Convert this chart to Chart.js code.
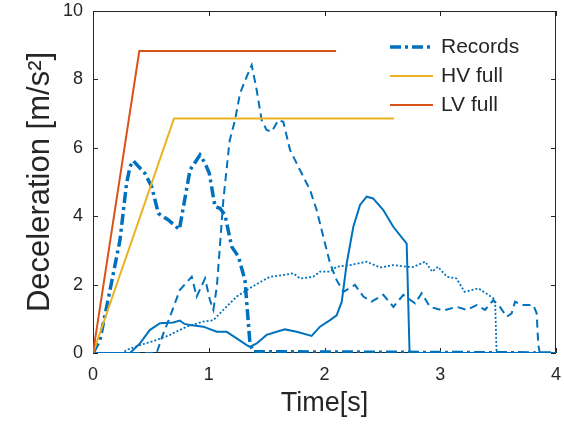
<!DOCTYPE html>
<html>
<head>
<meta charset="utf-8">
<script src="https://cdn.jsdelivr.net/npm/chart.js@4.4.1/dist/chart.umd.min.js"></script>
<style>
  html, body { margin: 0; padding: 0; background: #fff; }
  canvas { display: block; }
</style>
</head>
<body>
<canvas id="myChart" width="564" height="424"></canvas>
<script>
// records (four recorded runs), all in m/s^2 over time in s
const recDashDotT = [0, 0.06, 0.147, 0.233, 0.29, 0.32, 0.348, 0.449, 0.507, 0.565, 0.651, 0.746, 0.838, 0.924, 0.968, 1.005, 1.054, 1.097, 1.14, 1.198, 1.256, 1.313, 1.356, 1.385, 4];
const recDashDotV = [0, 0.38, 1.84, 3.3, 4.96, 5.45, 5.62, 5.25, 4.86, 4.08, 3.89, 3.61, 5.35, 5.79, 5.55, 5.25, 4.28, 4.23, 4.04, 3.11, 2.82, 2.13, 0.28, 0.04, 0];

const recDashT = [0, 0.55, 0.6, 0.665, 0.75, 0.853, 0.896, 0.968, 1.01, 1.04, 1.07, 1.126, 1.18, 1.227, 1.27, 1.328, 1.371, 1.414, 1.457, 1.5, 1.544, 1.601, 1.644, 1.702, 1.788, 1.875, 1.932, 1.99, 2.048, 2.105, 2.163, 2.263, 2.336, 2.407, 2.508, 2.595, 2.681, 2.782, 2.84, 2.91, 3.027, 3.142, 3.229, 3.315, 3.387, 3.458, 3.516, 3.574, 3.617, 3.646, 3.704, 3.804, 3.833, 3.847, 3.86, 4];
const recDashV = [0, 0, 0.5, 1.06, 1.84, 2.23, 1.65, 2.18, 1.55, 1.26, 1.94, 4.47, 6.2, 6.81, 7.59, 8.08, 8.42, 7.69, 6.81, 6.52, 6.47, 6.81, 6.76, 5.94, 5.35, 4.77, 4.18, 3.4, 2.62, 2.13, 1.79, 1.99, 1.65, 1.5, 1.7, 1.35, 1.7, 1.45, 1.75, 1.35, 1.24, 1.35, 1.26, 1.4, 1.26, 1.55, 1.35, 1.06, 1.16, 1.5, 1.4, 1.4, 1.16, 0.23, 0, 0];

const recDotT = [0, 0.26, 0.29, 0.406, 0.55, 0.665, 0.81, 0.953, 1.04, 1.126, 1.241, 1.328, 1.428, 1.529, 1.644, 1.73, 1.788, 1.903, 1.961, 2.048, 2.105, 2.22, 2.364, 2.48, 2.594, 2.71, 2.77, 2.87, 2.93, 2.98, 3.056, 3.14, 3.21, 3.33, 3.415, 3.46, 3.475, 3.487, 4];
const recDotV = [0, 0, 0.09, 0.23, 0.38, 0.53, 0.77, 0.92, 0.96, 1.26, 1.65, 1.84, 2.04, 2.23, 2.28, 2.33, 2.18, 2.23, 2.38, 2.38, 2.52, 2.57, 2.67, 2.5, 2.57, 2.52, 2.52, 2.67, 2.38, 2.52, 2.23, 2.18, 1.79, 1.89, 1.7, 1.6, 1.4, 0, 0];

const recSolidT = [0, 0.32, 0.406, 0.49, 0.579, 0.694, 0.75, 0.79, 0.838, 0.953, 1.069, 1.155, 1.241, 1.328, 1.356, 1.414, 1.5, 1.587, 1.659, 1.76, 1.889, 1.961, 2.048, 2.105, 2.149, 2.192, 2.249, 2.307, 2.364, 2.42, 2.508, 2.594, 2.71, 2.735, 4];
const recSolidV = [0, 0, 0.28, 0.67, 0.87, 0.89, 0.95, 0.85, 0.82, 0.77, 0.62, 0.62, 0.43, 0.23, 0.18, 0.28, 0.53, 0.62, 0.69, 0.62, 0.5, 0.77, 0.96, 1.1, 1.5, 2.62, 3.69, 4.33, 4.57, 4.52, 4.18, 3.69, 3.2, 0, 0];

// full braking profiles
const hvFullT = [0, 0.7, 2.6];
const hvFullV = [0, 6.86, 6.86];
const lvFullT = [0, 0.4, 2.1];
const lvFullV = [0, 8.83, 8.83];

const xTicks = [0, 1, 2, 3, 4];
const yTicks = [0, 2, 4, 6, 8, 10];
const legendOrder = ['Records', 'HV full', 'LV full'];

const BLUE = '#0072BD';
const INK = '#262626';
const FONT = '"Liberation Sans", Arial, Helvetica, sans-serif';

function pts(t, v) {
    return t.map((x, i) => ({ x: x, y: v[i] }));
}

function line(t, v, color, width, dash, legendText) {
    return {
        data: pts(t, v),
        borderColor: color,
        backgroundColor: color,
        borderWidth: width,
        borderDash: dash,
        borderCapStyle: 'butt',
        pointRadius: 0,
        tension: 0,
        fill: false,
        legendText: legendText
    };
}

// box around plot with matlab style inward ticks
const boxTicks = {
    id: 'boxTicks',
    beforeDatasetsDraw(chart) {
        const { ctx, chartArea: a, scales: { x, y } } = chart;
        ctx.save();
        ctx.strokeStyle = INK;
        ctx.lineWidth = 1;
        ctx.strokeRect(a.left + 0.5, a.top + 0.5, a.right - a.left - 1, a.bottom - a.top - 1);
        ctx.beginPath();
        xTicks.forEach(v => {
            const px = Math.round(x.getPixelForValue(v)) + 0.5;
            ctx.moveTo(px, a.bottom); ctx.lineTo(px, a.bottom - 5);
            ctx.moveTo(px, a.top); ctx.lineTo(px, a.top + 5);
        });
        yTicks.forEach(v => {
            const py = Math.round(y.getPixelForValue(v)) + 0.5;
            ctx.moveTo(a.left, py); ctx.lineTo(a.left + 5, py);
            ctx.moveTo(a.right, py); ctx.lineTo(a.right - 5, py);
        });
        ctx.stroke();
        ctx.restore();
    }
};

// legend inside the plot, top right
const insideLegend = {
    id: 'insideLegend',
    afterDraw(chart) {
        const { ctx, chartArea: a } = chart;
        const ds = chart.data.datasets;
        let yy = a.top + 36;
        const x0 = a.right - 166;
        ctx.save();
        legendOrder.forEach(name => {
            const d = ds.find(s => s.legendText === name);
            ctx.beginPath();
            ctx.strokeStyle = d.borderColor;
            ctx.lineWidth = d.borderWidth;
            ctx.lineCap = 'butt';
            ctx.setLineDash(d.borderDash || []);
            ctx.moveTo(x0, yy);
            ctx.lineTo(x0 + 43, yy);
            ctx.stroke();
            ctx.setLineDash([]);
            ctx.fillStyle = INK;
            ctx.font = '21px ' + FONT;
            ctx.textBaseline = 'middle';
            ctx.textAlign = 'left';
            ctx.fillText(name, x0 + 51, yy);
            yy += 29;
        });
        ctx.restore();
    }
};

// keep the plot box where the reference has it, labels may overhang
function noPad(s) {
    s.paddingTop = 0; s.paddingBottom = 0; s.paddingLeft = 0; s.paddingRight = 0;
}

Chart.defaults.font.family = FONT;
Chart.defaults.color = INK;

const config = {
    type: 'line',
    data: {
        datasets: [
            line(lvFullT, lvFullV, '#D95319', 2, [], 'LV full'),
            line(hvFullT, hvFullV, '#EDB120', 2, [], 'HV full'),
            line(recDashDotT, recDashDotV, BLUE, 3.5, [11, 4, 3, 4], 'Records'),
            line(recDashT, recDashV, BLUE, 2, [8, 5], null),
            line(recDotT, recDotV, BLUE, 1.8, [2, 2], null),
            line(recSolidT, recSolidV, BLUE, 2, [], null)
        ]
    },
    options: {
        responsive: false,
        animation: false,
        layout: { padding: { top: 11, right: 8, left: 0, bottom: 0 } },
        plugins: { legend: { display: false }, tooltip: { enabled: false } },
        scales: {
            x: {
                type: 'linear',
                min: 0, max: 4,
                grid: { display: false, drawTicks: false },
                border: { display: false },
                ticks: { stepSize: 1, padding: 11, font: { size: 18 }, color: INK, maxRotation: 0 },
                title: { display: true, text: 'Time[s]', font: { size: 27, lineHeight: 1 }, color: INK, padding: { top: 0, bottom: 7 } },
                afterFit: s => { s.height = 71; noPad(s); }
            },
            y: {
                type: 'linear',
                min: 0, max: 10,
                grid: { display: false, drawTicks: false },
                border: { display: false },
                ticks: { stepSize: 2, padding: 10, font: { size: 18 }, color: INK },
                title: { display: true, text: 'Deceleration [m/s²]', font: { size: 31, lineHeight: 1 }, color: INK, padding: { top: 25, bottom: 0 } },
                afterFit: s => { s.width = 93; noPad(s); }
            }
        }
    },
    plugins: [boxTicks, insideLegend]
};

const myChart = new Chart(document.getElementById('myChart'), config);
</script>
</body>
</html>
